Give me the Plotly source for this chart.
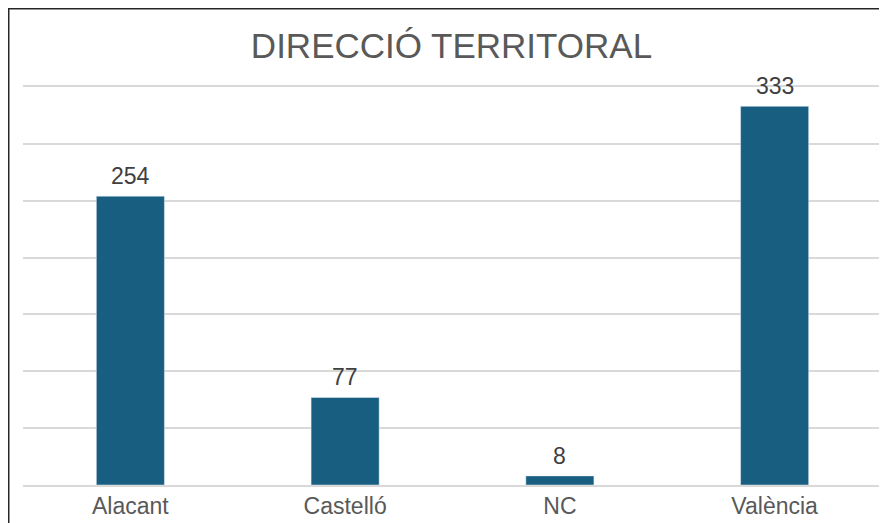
import plotly.graph_objects as go

categories = ["Alacant", "Castelló", "NC", "València"]
values = [254, 77, 8, 333]
grid_vals = [0, 50, 100, 150, 200, 250, 300, 350]

fig = go.Figure(go.Bar(
    x=categories, y=values,
    marker_color="#175E80",
))

# data labels above bars
for c, v in zip(categories, values):
    fig.add_annotation(x=c, y=v, text=str(v), showarrow=False,
                       yanchor="bottom", yshift=5,
                       font=dict(size=23, color="#404040"))

fig.update_layout(
    width=887, height=523,
    margin=dict(l=15, r=13, t=79, b=46),
    paper_bgcolor="white", plot_bgcolor="white",
    bargap=0.683,
    font=dict(family="Liberation Sans, Arial", color="#595959"),
    title=dict(text="DIRECCIÓ TERRITORAL", x=0.5, xanchor="center",
               y=0.927, yanchor="middle",
               font=dict(size=35, color="#595959")),
    showlegend=False,
)
fig.update_yaxes(range=[0, 350], tickvals=grid_vals, showticklabels=False,
                 showgrid=True, gridcolor="#d9d9d9", gridwidth=1.5,
                 zeroline=False, showline=False, automargin=False)
fig.update_xaxes(showgrid=False, showline=True, mirror=True,
                 linecolor="#d9d9d9", linewidth=1.5, ticks="",
                 ticklabelstandoff=0, automargin=False,
                 tickfont=dict(size=23, color="#595959"))

# outer chart border (left and top visible)
fig.add_shape(type="rect", xref="paper", yref="paper",
              x0=-0.0166, x1=1.2, y0=-0.5, y1=1.1966,
              line=dict(color="#262626", width=1.5))

fig.write_html("out.html")
